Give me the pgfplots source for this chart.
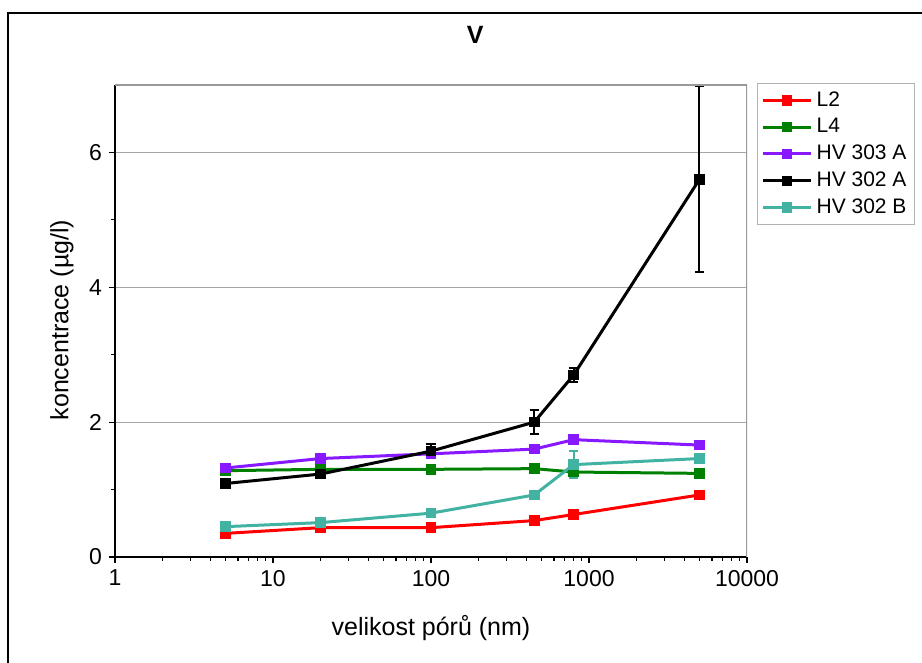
\documentclass[border=0pt]{standalone}
\usepackage{pgfplots}
\pgfplotsset{compat=1.18}
\usepackage{fontspec}
\setmainfont{Liberation Sans}

\definecolor{cLtwo}{RGB}{255,0,0}
\definecolor{cLfour}{RGB}{0,128,0}
\definecolor{cHVthreeA}{RGB}{136,24,255}
\definecolor{cHVtwoA}{RGB}{0,0,0}
\definecolor{cHVtwoB}{RGB}{66,178,162}

\pgfplotsset{
  series/.style={line width=1.5pt, color=#1, mark=square*, mark size=1.9pt,
    mark options={solid, fill=#1},
    error bars/.cd, y dir=both, y explicit,
    error bar style={line width=1pt, color=#1},
    error mark options={rotate=90, mark size=2.3pt, line width=1pt, color=#1}},
}

\begin{document}
\begin{tikzpicture}
\useasboundingbox (-57.5pt,-53pt) rectangle (403.5pt,278.5pt);
% outer frame
\draw[line width=1.1pt] (-53.5pt,-60pt) -- (-53.5pt,272pt) -- (410pt,272pt);
\begin{axis}[
  at={(0,0)}, anchor=south west,
  scale only axis, width=316pt, height=236pt,
  xmode=log, xmin=1, xmax=10000,
  xtick={1,10,100,1000,10000},
  xticklabels={1,10,100,1000,10000},
  ymin=0, ymax=7,
  ytick={0,2,4,6}, minor ytick={1,3,5},
  axis x line*=bottom, axis y line*=left,
  axis line style={line width=0.75pt, black},
  tick align=outside,
  major tick length=3pt, minor tick length=2pt,
  every tick/.style={black, line width=0.6pt},
  ymajorgrids, grid style={gray!70, line width=0.5pt},
  /pgf/number format/assume math mode=true,
  tick label style={font=\fontsize{11.5}{13}\selectfont},
  xlabel={velikost pórů (nm)},
  ylabel={koncentrace (µg/l)},
  label style={font=\fontsize{12.5}{14}\selectfont},
  xlabel style={at={(axis description cs:0.5,-0.150)}, anchor=center},
  ylabel style={at={(axis description cs:-0.084,0.502)}, anchor=center},
  title={\textbf{V}},
  title style={at={(axis description cs:0.570,1.08)}, anchor=center,
    font=\fontsize{12.5}{14}\selectfont},
  legend cell align=left,
  legend image code/.code={\draw[mark repeat=2,mark phase=2]
    plot coordinates {(0pt,0pt) (12pt,0pt) (24pt,0pt)};},
  legend style={at={(rel axis cs:1.016,1.004)}, anchor=north west,
    draw=gray!60, line width=0.5pt, inner sep=2pt, row sep=0.6pt,
    font=\fontsize{10.5}{12}\selectfont,
    cells={anchor=west}},
]
\addplot[series=cLtwo] coordinates {
  (5,0.35) +- (0,0.02)
  (20,0.435) +- (0,0.02)
  (100,0.435) +- (0,0.02)
  (450,0.54) +- (0,0.02)
  (800,0.63) +- (0,0.03)
  (5000,0.92) +- (0,0.04)
};
\addlegendentry{L2}
\addplot[series=cLfour] coordinates {
  (5,1.28) +- (0,0.02)
  (20,1.30) +- (0,0.02)
  (100,1.30) +- (0,0.02)
  (450,1.31) +- (0,0.02)
  (800,1.26) +- (0,0.03)
  (5000,1.24) +- (0,0.02)
};
\addlegendentry{L4}
\addplot[series=cHVthreeA] coordinates {
  (5,1.32) +- (0,0.03)
  (20,1.46) +- (0,0.02)
  (100,1.53) +- (0,0.03)
  (450,1.60) +- (0,0.02)
  (800,1.74) +- (0,0.06)
  (5000,1.66) +- (0,0.02)
};
\addlegendentry{HV 303 A}
\addplot[series=cHVtwoA] coordinates {
  (5,1.09) +- (0,0.02)
  (20,1.23) +- (0,0.05)
  (100,1.57) +- (0,0.10)
  (450,2.00) +- (0,0.18)
  (800,2.70) +- (0,0.10)
  (5000,5.60) +- (0,1.38)
};
\addlegendentry{HV 302 A}
\addplot[series=cHVtwoB] coordinates {
  (5,0.45) +- (0,0.02)
  (20,0.51) +- (0,0.02)
  (100,0.65) +- (0,0.02)
  (450,0.92) +- (0,0.05)
  (800,1.37) +- (0,0.20)
  (5000,1.46) +- (0,0.06)
};
\addlegendentry{HV 302 B}
\draw[gray!80, line width=0.6pt] (rel axis cs:0,1) -- (rel axis cs:1,1) -- (rel axis cs:1,0);
\end{axis}
\end{tikzpicture}
\end{document}
